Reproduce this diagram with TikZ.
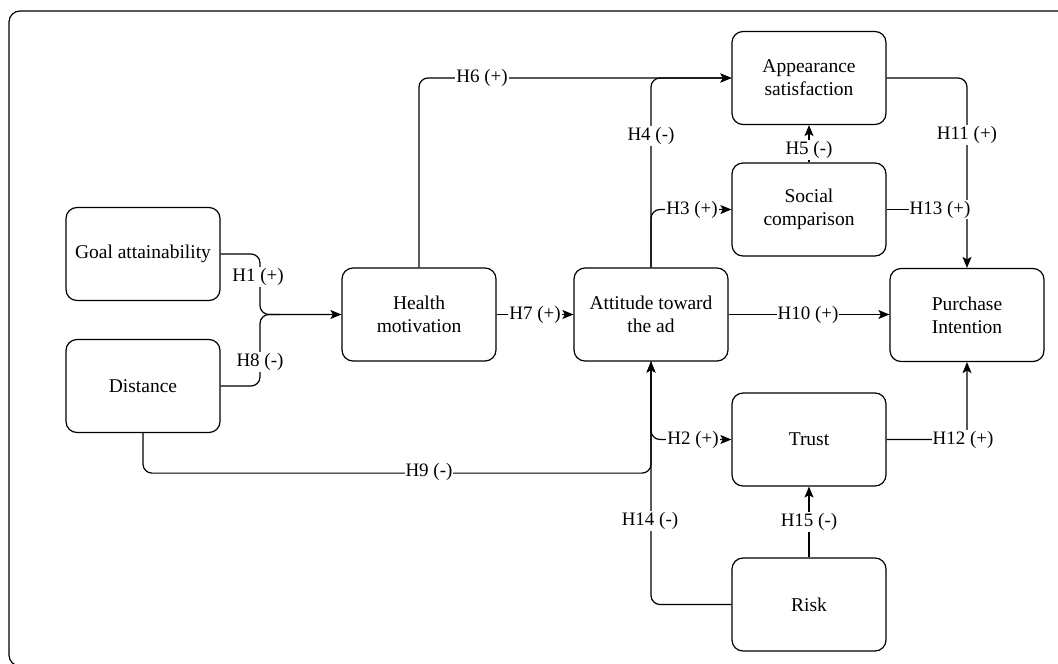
\documentclass[tikz,border=0pt]{standalone}
\usepackage{fontspec}
\setmainfont{Liberation Serif}
\usetikzlibrary{arrows.meta}

\tikzset{
  box/.style={draw, line width=1.2pt, rounded corners=11pt, minimum width=154pt,
              minimum height=93pt, align=center, inner sep=2pt,
              font=\fontsize{19.5}{23}\selectfont},
  conn/.style={line width=1.2pt, rounded corners=9pt},
  arr/.style={conn, -{Stealth[length=11pt,width=9pt,inset=2.5pt]}},
  lbl/.style={fill=white, inner sep=1pt, font=\fontsize{19}{22}\selectfont}
}

\begin{document}
\begin{tikzpicture}[x=1pt,y=-1pt]
  \useasboundingbox (0,0) rectangle (1058,664);
  \clip (0,0) rectangle (1058,664);

  % outer frame, running past the right and bottom edges
  \draw[line width=1.2pt, rounded corners=11pt] (9,11) rectangle (1080,666);

  % constructs
  \node[box] (goal)   at (143,254)   {Goal attainability};
  \node[box] (dist)   at (143,386)   {Distance};
  \node[box] (health) at (419,314.5) {Health\\motivation};
  \node[box] (att)    at (651,314.5) {Attitude toward\\the ad};
  \node[box] (app)    at (809,78)    {Appearance\\satisfaction};
  \node[box] (soc)    at (809,209.5) {Social\\comparison};
  \node[box] (pur)    at (967,315)   {Purchase\\Intention};
  \node[box] (trust)  at (809,439.5) {Trust};
  \node[box] (risk)   at (809,604.5) {Risk};

  % junction points
  \coordinate (jm) at (260,314.5);
  \coordinate (ja) at (651,78);
  \coordinate (jp) at (967,78);

  % H1, H8 -> health motivation
  \draw[arr] (goal.east) -- (goal.east -| jm) -- (jm) -- (health.west);
  \draw[conn] (dist.east) -- (dist.east -| jm) -- (jm) -- ++(20,0);
  \node[lbl] at (258,277) {H1 (+)};
  \node[lbl] at (260,362) {H8 (-)};

  % H7, H10
  \draw[arr] (health.east) -- (att.west);
  \node[lbl] at (535,314.5) {H7 (+)};
  \draw[arr] (att.east) -- (att.east -| pur.west);
  \node[lbl] at (808,314.5) {H10 (+)};

  % H6, H4 -> appearance satisfaction
  \draw[arr] (health.north) -- (health.north |- app.west) -- (app.west);
  \node[lbl] at (482,78) {H6 (+)};
  \draw[arr] (att.north) -- (ja) -- (app.west);
  \node[lbl] at (651,136) {H4 (-)};

  % H3 -> social comparison
  \draw[arr] (att.north) -- (att.north |- soc.west) -- (soc.west);
  \node[lbl] at (692,209.5) {H3 (+)};

  % H5
  \draw[arr] (soc.north) -- (app.south);
  \node[lbl] at (809,150) {H5 (-)};

  % H11, H13 -> purchase intention
  \draw[arr] (app.east) -- (jp) -- (pur.north);
  \node[lbl] at (967,135) {H11 (+)};
  \draw[conn] (soc.east) -- (soc.east -| pur.north);
  \node[lbl] at (940,209.5) {H13 (+)};

  % H12
  \draw[arr] (trust.east) -- (trust.east -| pur.south) -- (pur.south);
  \node[lbl] at (963,439.5) {H12 (+)};

  % H9 -> attitude
  \draw[arr] (dist.south) -- ++(0,40) -| (att.south);
  \node[lbl] at (429,472) {H9 (-)};

  % H2 -> trust
  \draw[arr] (att.south) -- (att.south |- trust.west) -- (trust.west);
  \node[lbl] at (693,439.5) {H2 (+)};

  % H14, H15 from risk
  \draw[arr] (risk.west) -- (risk.west -| att.south) -- (att.south);
  \node[lbl] at (650,521) {H14 (-)};
  \draw[arr] (risk.north) -- (trust.south);
  \node[lbl] at (809,522) {H15 (-)};
\end{tikzpicture}
\end{document}
